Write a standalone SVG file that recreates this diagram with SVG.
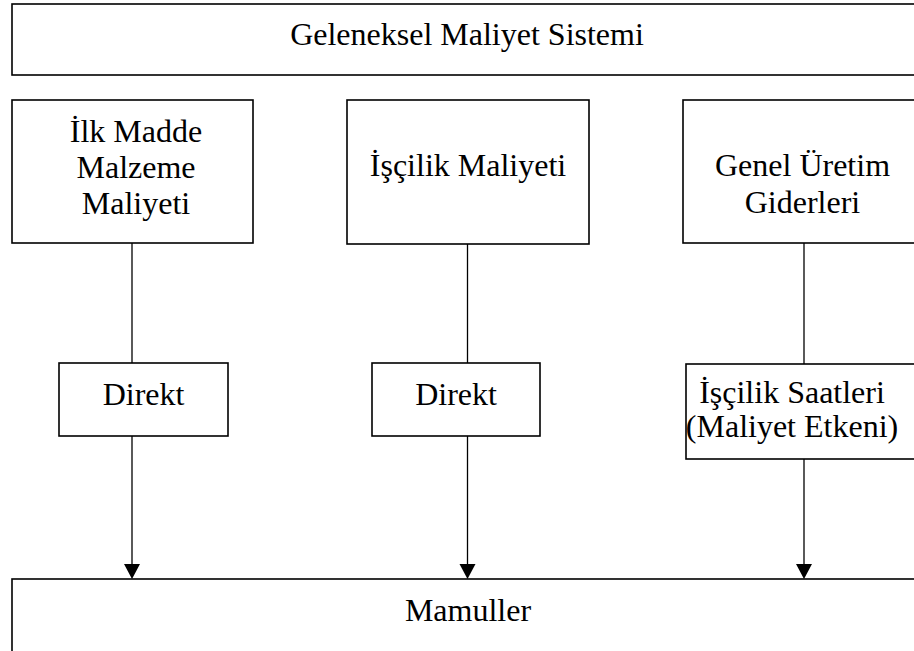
<svg xmlns="http://www.w3.org/2000/svg" width="914" height="651" viewBox="0 0 914 651">
  <defs>
    <style>
      .box { fill: #ffffff; stroke: #000000; stroke-width: 1.6; }
      .lbl { font-size: 32px; fill: #000000; text-anchor: middle; }
      .link { stroke: #000000; stroke-width: 1.3; fill: none; }
    </style>
  </defs>
  <rect width="914" height="651" fill="#ffffff"/>

  <!-- connectors -->
  <g id="connectors">
    <line class="link" x1="132" y1="243" x2="132" y2="363"/>
    <line class="link" x1="132" y1="436" x2="132" y2="564"/>
    <path d="M124,564 L140,564 L132,579 Z" fill="#000"/>
    <line class="link" x1="467.5" y1="244" x2="467.5" y2="363"/>
    <line class="link" x1="467.5" y1="436" x2="467.5" y2="564"/>
    <path d="M459.5,564 L475.5,564 L467.5,579 Z" fill="#000"/>
    <line class="link" x1="804" y1="243" x2="804" y2="364"/>
    <line class="link" x1="804" y1="459" x2="804" y2="564"/>
    <path d="M796,564 L812,564 L804,579 Z" fill="#000"/>
  </g>

  <g font-family="'Liberation Serif', 'Times New Roman', serif">
    <!-- header -->
    <g id="system">
      <rect class="box" x="12" y="4" width="910" height="71"/>
      <text class="lbl" x="467" y="45">Geleneksel Maliyet Sistemi</text>
    </g>

    <!-- cost categories -->
    <g id="material">
      <rect class="box" x="12" y="100" width="241" height="143"/>
      <text class="lbl" x="136" y="141.5">İlk Madde</text>
      <text class="lbl" x="136" y="177.5">Malzeme</text>
      <text class="lbl" x="136" y="213.5">Maliyeti</text>
    </g>
    <g id="labor">
      <rect class="box" x="347" y="100" width="242" height="144"/>
      <text class="lbl" x="468" y="176">İşçilik Maliyeti</text>
    </g>
    <g id="overhead">
      <rect class="box" x="683" y="100" width="240" height="143"/>
      <text class="lbl" x="802.5" y="176">Genel Üretim</text>
      <text class="lbl" x="802.5" y="212.5">Giderleri</text>
    </g>

    <!-- allocation bases -->
    <g id="direct-material">
      <rect class="box" x="59" y="363" width="169" height="73"/>
      <text class="lbl" x="143.5" y="405">Direkt</text>
    </g>
    <g id="direct-labor">
      <rect class="box" x="372" y="363" width="168" height="73"/>
      <text class="lbl" x="456" y="405">Direkt</text>
    </g>
    <g id="labor-hours">
      <rect class="box" x="686" y="364" width="236" height="95"/>
      <text class="lbl" x="792" y="403">İşçilik Saatleri</text>
      <text class="lbl" x="792" y="437">(Maliyet Etkeni)</text>
    </g>

    <!-- products -->
    <g id="products">
      <rect class="box" x="12" y="579" width="910" height="90"/>
      <text class="lbl" x="468" y="620.5">Mamuller</text>
    </g>
  </g>
</svg>
